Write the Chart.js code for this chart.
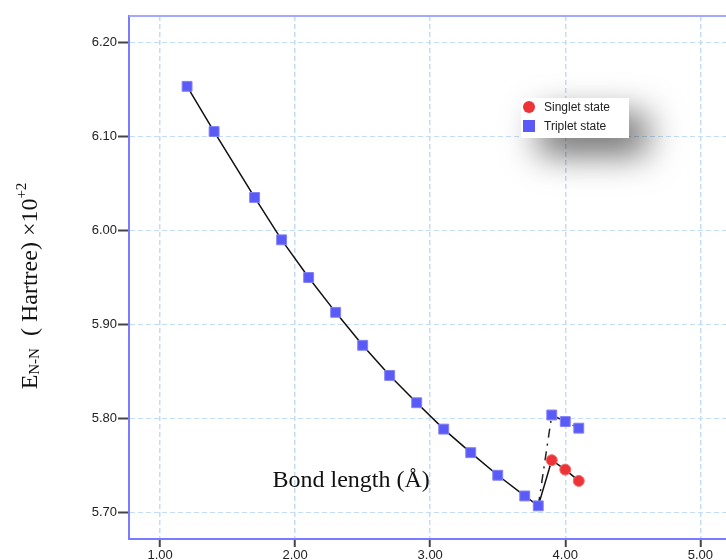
<!DOCTYPE html>
<html>
<head>
<meta charset="utf-8">
<script src="https://cdn.jsdelivr.net/npm/chart.js@4.4.0/dist/chart.umd.min.js"></script>
<style>
html, body { margin: 0; padding: 0; background: #fff; }
</style>
</head>
<body>
<canvas id="myChart" width="726" height="560"></canvas>
<script>
const tripletX = [1.2, 1.4, 1.7, 1.9, 2.1, 2.3, 2.5, 2.7, 2.9, 3.1, 3.3, 3.5, 3.7, 3.8, 3.9, 4.0, 4.1]
const tripletY = [6.153, 6.105, 6.035, 5.990, 5.950, 5.913, 5.878, 5.846, 5.817, 5.789, 5.764, 5.740, 5.718, 5.7075, 5.804, 5.797, 5.790]
const singletX = [3.9, 4.0, 4.1]
const singletY = [5.756, 5.746, 5.734]
const xTicks = [1, 2, 3, 4, 5]
const yTicks = [5.7, 5.8, 5.9, 6.0, 6.1, 6.2]

const pts = (xs, ys) => xs.map((x, i) => ({ x: x, y: ys[i] }))

// solid line: triplet curve down to the minimum, then over to the singlet branch
const solidLine = pts(tripletX.slice(0, 14), tripletY.slice(0, 14)).concat(pts(singletX, singletY))
// dash-dot line: from the minimum up to the triplet branch
const dashLine = pts(tripletX.slice(13), tripletY.slice(13))

const extras = {
    id: 'extras',
    beforeDatasetsDraw(chart) {
        const ctx = chart.ctx
        const a = chart.chartArea
        ctx.save()
        ctx.strokeStyle = '#a3a9ff'
        ctx.lineWidth = 2
        ctx.beginPath()
        ctx.moveTo(a.left, a.top)
        ctx.lineTo(a.right, a.top)
        ctx.stroke()
        ctx.restore()
    },
    afterDatasetsDraw(chart) {
        const ctx = chart.ctx
        const xs = chart.scales.x
        const ys = chart.scales.y

        // x title sits inside the plot
        ctx.save()
        ctx.fillStyle = '#111'
        ctx.font = "24px 'Liberation Serif'"
        ctx.textAlign = 'center'
        ctx.textBaseline = 'alphabetic'
        ctx.fillText('Bond length (\u00C5)', xs.getPixelForValue(2.415), ys.getPixelForValue(5.7277))
        ctx.restore()

        // y title with sub/superscripts
        const parts = [
            { t: 'E', f: 24, dy: 0 },
            { t: 'N-N', f: 15, dy: 2 },
            { t: '  ( Hartree) \u00D710', f: 24, dy: 0 },
            { t: '+2', f: 15, dy: -11 }
        ]
        ctx.save()
        ctx.fillStyle = '#111'
        let total = 0
        parts.forEach(p => {
            ctx.font = p.f + "px 'Liberation Serif'"
            p.w = ctx.measureText(p.t).width
            total += p.w
        })
        ctx.translate(37, 286)
        ctx.rotate(-Math.PI / 2)
        let cx = -total / 2
        parts.forEach(p => {
            ctx.font = p.f + "px 'Liberation Serif'"
            ctx.fillText(p.t, cx, p.dy)
            cx += p.w
        })
        ctx.restore()

        // legend box with shadow
        ctx.save()
        ctx.shadowColor = 'rgba(0,0,0,0.6)'
        ctx.shadowBlur = 35
        ctx.shadowOffsetX = 18
        ctx.shadowOffsetY = 16
        ctx.fillStyle = '#fff'
        ctx.fillRect(521, 98, 108, 40)
        ctx.restore()
        ctx.save()
        ctx.fillStyle = '#fff'
        ctx.fillRect(521, 98, 108, 40)
        ctx.fillStyle = '#ee3338'
        ctx.beginPath()
        ctx.arc(529, 107, 6, 0, Math.PI * 2)
        ctx.fill()
        ctx.fillStyle = '#5a5af6'
        ctx.fillRect(523, 120, 12, 12)
        ctx.fillStyle = '#222'
        ctx.font = "12px 'Liberation Sans'"
        ctx.fillText('Singlet state', 544, 111)
        ctx.fillText('Triplet state', 544, 130)
        ctx.restore()
    }
}

const tickFont = { family: 'Liberation Sans', size: 13 }

const ctx = document.getElementById('myChart').getContext('2d')
const myChart = new Chart(ctx, {
    type: 'scatter',
    data: {
        datasets: [{
            label: 'Singlet state',
            data: pts(singletX, singletY),
            pointStyle: 'circle',
            pointRadius: 5.5,
            backgroundColor: '#ee3338',
            borderColor: '#f26a6a',
            borderWidth: 1,
            order: 0
        }, {
            label: 'Triplet state',
            data: pts(tripletX, tripletY),
            pointStyle: 'rect',
            pointRadius: 7,
            backgroundColor: '#5a5af6',
            borderColor: '#8282f8',
            borderWidth: 1,
            order: 0
        }, {
            label: 'solid',
            data: solidLine,
            showLine: true,
            pointRadius: 0,
            borderColor: '#111',
            borderWidth: 1.5,
            order: 1
        }, {
            label: 'dash',
            data: dashLine,
            showLine: true,
            pointRadius: 0,
            borderColor: '#222',
            borderWidth: 1.5,
            borderDash: [9, 6, 2, 6],
            order: 1
        }]
    },
    options: {
        responsive: false,
        animation: false,
        layout: { autoPadding: false, padding: { top: 16, right: 0, left: 0, bottom: 0 } },
        plugins: {
            legend: { display: false },
            tooltip: { enabled: false }
        },
        scales: {
            x: {
                type: 'linear',
                min: 0.77,
                max: 5.19,
                afterBuildTicks: s => { s.ticks = xTicks.map(v => ({ value: v })) },
                afterFit: s => { s.height = 21; s.paddingLeft = 0; s.paddingRight = 0 },
                ticks: { callback: v => v.toFixed(2), font: tickFont, color: '#222', padding: 1, maxRotation: 0 },
                grid: { color: '#c6dcf2', lineWidth: 1.5, tickLength: 8, tickColor: '#444', tickWidth: 2 },
                border: { color: '#7b7bff', width: 2, dash: [5, 3] }
            },
            y: {
                type: 'linear',
                min: 5.6723,
                max: 6.2277,
                afterBuildTicks: s => { s.ticks = yTicks.map(v => ({ value: v })) },
                afterFit: s => { s.width = 129; s.paddingTop = 0; s.paddingBottom = 0 },
                ticks: { callback: v => v.toFixed(2), font: tickFont, color: '#222', padding: 1 },
                grid: { color: '#c6dcf2', lineWidth: 1, tickLength: 11, tickColor: '#444', tickWidth: 2 },
                border: { color: '#7b7bff', width: 2, dash: [5, 3] }
            }
        }
    },
    plugins: [extras]
})
</script>
</body>
</html>
